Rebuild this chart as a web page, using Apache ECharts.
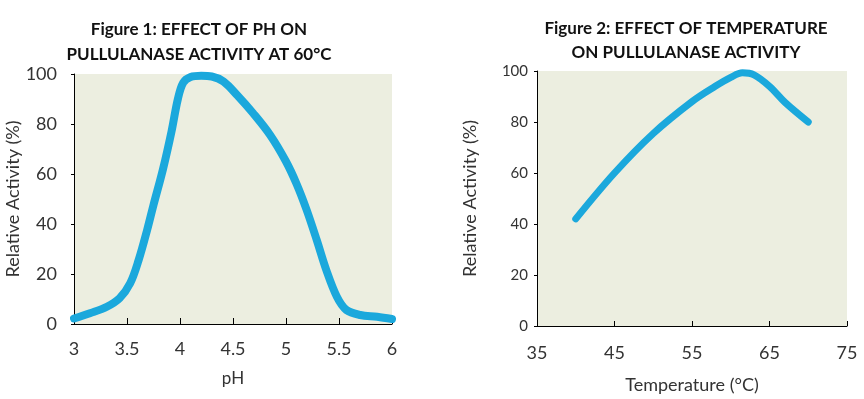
<!DOCTYPE html>
<html>
<head>
<meta charset="utf-8">
<script src="https://cdn.jsdelivr.net/npm/echarts@6/dist/echarts.min.js"></script>
<style>
  html, body { margin: 0; padding: 0; background: #fff; }
  #chart { width: 864px; height: 399px; }
</style>
</head>
<body>
<div id="chart"></div>
<script>
// Figure 1: activity vs pH
var phValues = [3.0, 3.15, 3.31, 3.43, 3.53, 3.61, 3.69, 3.75, 3.84, 3.92, 3.98, 4.03, 4.1, 4.2, 4.3, 4.41, 4.54, 4.69, 4.85, 5.0, 5.1, 5.195, 5.29, 5.38, 5.48, 5.57, 5.7, 5.86, 6.0];
var phActivity = [2.2, 4.3, 6.9, 10.3, 16.3, 25.6, 37.6, 47.6, 62, 77, 90, 96.5, 98.8, 99.3, 99, 97, 91.5, 84.3, 75.6, 65, 56, 45.6, 33.6, 21.6, 10.9, 5.6, 3.6, 2.9, 2.0];
var phTicks = [3, 3.5, 4, 4.5, 5, 5.5, 6];

// Figure 2: activity vs temperature
var tempValues = [40, 45, 50, 55, 58, 60, 61.5, 63, 65, 67, 70];
var tempActivity = [42, 60, 75.5, 88, 94, 97.5, 99.3, 98.5, 94, 87.7, 80];
var tempTicks = [35, 45, 55, 65, 75];

var activityTicks = [0, 20, 40, 60, 80, 100];

var lineColor = '#1ba8dc';
var plotBg = '#eceee0';
var font = 'Lato';

function pairs(xs, ys) {
    var out = [];
    for (var i = 0; i < xs.length; i++) {
        out.push([xs[i], ys[i]]);
    }
    return out;
}

var myChart = echarts.init(document.getElementById('chart'));
var option = {
    animation: false,
    textStyle: { fontFamily: font },
    title: [
        {
            text: 'Figure 1: EFFECT OF PH ON\nPULLULANASE ACTIVITY AT 60°C',
            left: 194, top: 12, textAlign: 'center',
            textStyle: { fontFamily: font, fontWeight: 'bold', fontSize: 17, lineHeight: 25, color: '#111' }
        },
        {
            text: 'Figure 2: EFFECT OF TEMPERATURE\nON PULLULANASE ACTIVITY',
            left: 681, top: 12, textAlign: 'center',
            textStyle: { fontFamily: font, fontWeight: 'bold', fontSize: 17, lineHeight: 24, color: '#111' }
        }
    ],
    grid: [
        { left: 74, top: 74, width: 318, height: 250, show: true, backgroundColor: plotBg, borderWidth: 0 },
        { left: 537, top: 71, width: 310, height: 259, show: true, backgroundColor: plotBg, borderWidth: 0 }
    ],
    xAxis: [
        {
            gridIndex: 0, type: 'value', min: 3, max: 6, interval: 0.5,
            name: 'pH', nameLocation: 'middle', nameGap: 46,
            nameTextStyle: { fontSize: 17, color: '#333' },
            axisLine: { lineStyle: { color: '#000', width: 1 } },
            axisTick: { inside: true, length: 6, lineStyle: { color: '#000' } },
            axisLabel: { fontSize: 18, color: '#333', margin: 16 },
            splitLine: { show: false }
        },
        {
            gridIndex: 1, type: 'value', min: 35, max: 75, interval: 10,
            name: 'Temperature (°C)', nameLocation: 'middle', nameGap: 50,
            nameTextStyle: { fontSize: 18, color: '#333' },
            axisLine: { lineStyle: { color: '#000', width: 1 } },
            axisTick: { inside: true, length: 5, lineStyle: { color: '#000' } },
            axisLabel: { fontSize: 18, color: '#333', margin: 18 },
            splitLine: { show: false }
        }
    ],
    yAxis: [
        {
            gridIndex: 0, type: 'value', min: 0, max: 100, interval: 20,
            name: 'Relative Activity (%)', nameLocation: 'middle', nameGap: 52,
            nameTextStyle: { fontSize: 18, color: '#333' },
            axisLine: { show: true, lineStyle: { color: '#000', width: 1 } },
            axisTick: { show: true, length: 3, lineStyle: { color: '#000' } },
            axisLabel: { fontSize: 18, color: '#333', margin: 17 },
            splitLine: { show: false }
        },
        {
            gridIndex: 1, type: 'value', min: 0, max: 100, interval: 20,
            name: 'Relative Activity (%)', nameLocation: 'middle', nameGap: 58,
            nameTextStyle: { fontSize: 18, color: '#333' },
            axisLine: { show: true, lineStyle: { color: '#000', width: 1 } },
            axisTick: { show: true, length: 3, lineStyle: { color: '#000' } },
            axisLabel: { fontSize: 15, color: '#333', margin: 9 },
            splitLine: { show: false }
        }
    ],
    series: [
        {
            type: 'line', xAxisIndex: 0, yAxisIndex: 0,
            data: pairs(phValues, phActivity),
            smooth: 0.35, showSymbol: false, clip: true,
            lineStyle: { color: lineColor, width: 8, cap: 'round' }
        },
        {
            type: 'line', xAxisIndex: 1, yAxisIndex: 1,
            data: pairs(tempValues, tempActivity),
            smooth: 0.35, showSymbol: false,
            lineStyle: { color: lineColor, width: 7, cap: 'round' }
        }
    ]
};
myChart.setOption(option);
</script>
</body>
</html>
